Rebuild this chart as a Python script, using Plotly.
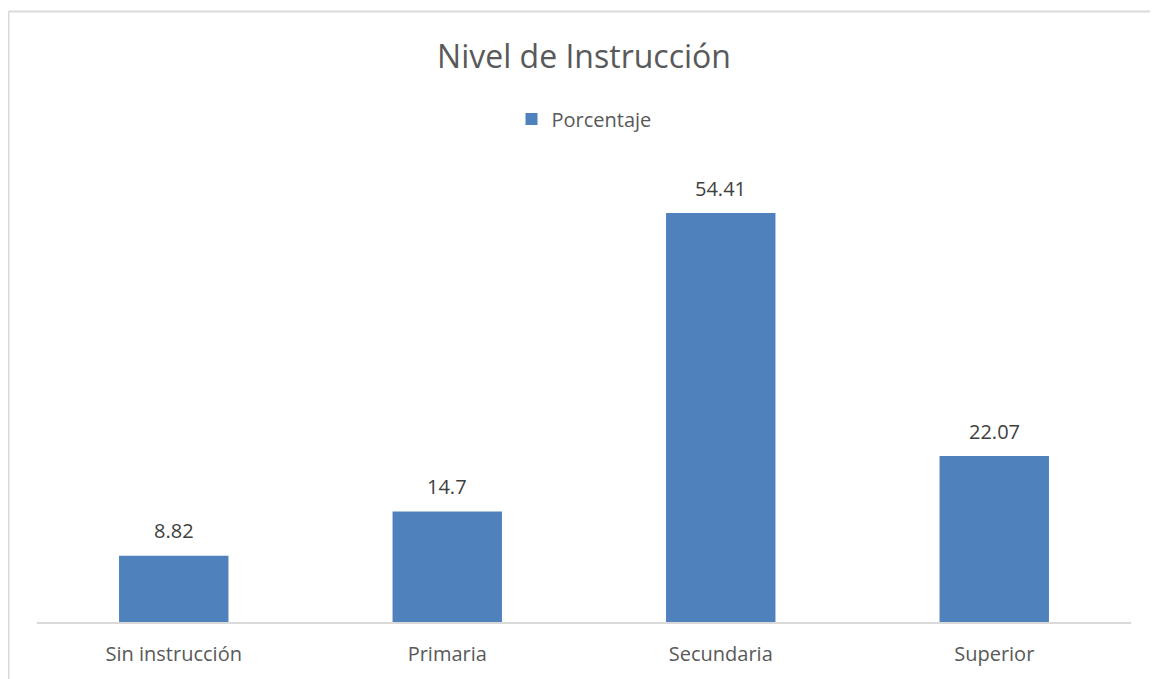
import plotly.graph_objects as go

categories = ["Sin instrucción", "Primaria", "Secundaria", "Superior"]
porcentaje = [8.82, 14.7, 54.41, 22.07]
labels = ["8.82", "14.7", "54.41", "22.07"]

# page body adds an 8px offset, so the figure is drawn 8px smaller
W, H = 1150, 671
L, R, T, B = 29, 27, 163, 57
pw, ph = W - L - R, H - T - B

FONT = "Open Sans"
TXT = "#595959"
BAR = "#4F81BD"

fig = go.Figure()
fig.add_trace(go.Bar(
    x=categories, y=porcentaje, name="Porcentaje",
    marker=dict(color=BAR, line=dict(width=0)),
    width=0.4, showlegend=True,
))

for c, v, t in zip(categories, porcentaje, labels):
    fig.add_annotation(x=c, y=v, text=t, showarrow=False, yanchor="middle",
                       yshift=25, font=dict(family=FONT, size=20, color="#404040"))

# chart border (left and top lines)
bx = (0.5 - L) / pw
by = 1 + (T - 3.5) / ph
fig.add_shape(type="line", xref="paper", yref="paper", x0=bx, x1=bx,
              y0=by, y1=-(B + 5) / ph, line=dict(color="#D9D9D9", width=2))
fig.add_shape(type="line", xref="paper", yref="paper", x0=bx, x1=1 + (R + 5) / pw,
              y0=by, y1=by, line=dict(color="#D9D9D9", width=2))

fig.update_layout(
    width=W, height=H,
    margin=dict(l=L, r=R, t=T, b=B, autoexpand=False),
    paper_bgcolor="white", plot_bgcolor="white",
    title=dict(text="Nivel de Instrucción", x=(584 - 8) / W, xanchor="center",
               xref="container", y=1 - 49 / H, yanchor="middle",
               font=dict(family=FONT, size=32, color=TXT)),
    legend=dict(orientation="h", x=0.5, xanchor="center",
                y=1 + (T - 111) / ph, yanchor="middle", itemwidth=30,
                font=dict(family=FONT, size=20, color=TXT)),
    xaxis=dict(showline=True, linecolor="#D9D9D9", linewidth=2, ticks="",
               ticklabelstandoff=13,
               tickfont=dict(family=FONT, size=20, color=TXT), showgrid=False,
               fixedrange=True),
    yaxis=dict(range=[0, 60], visible=False, showgrid=False, fixedrange=True),
    bargap=0.6,
)

fig.write_html("out.html")
